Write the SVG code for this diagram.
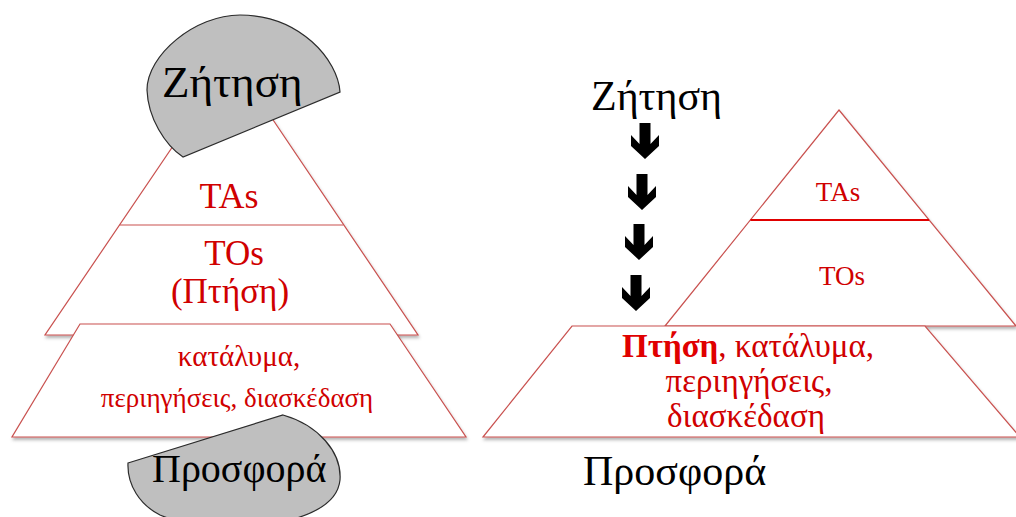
<svg xmlns="http://www.w3.org/2000/svg" width="1016" height="517" viewBox="0 0 1016 517">
<style>
.shape{fill:#fff;stroke:#c9514f;stroke-width:1.2}
.blob{fill:#bfbfbf;stroke:#2b2b2b;stroke-width:1.2}
.red{fill:#d00000;font-family:"Liberation Serif","DejaVu Serif",serif;text-anchor:middle}
.blk{fill:#000;font-family:"Liberation Serif","DejaVu Serif",serif}
.arrow{fill:#000}
</style>
<defs>
<filter id="sh" x="-5%" y="-5%" width="110%" height="125%">
<feDropShadow dx="1" dy="2.5" stdDeviation="1.5" flood-color="#000" flood-opacity="0.3"/>
</filter>
<path id="arr" d="M -5.5 0 H 5.5 V 21 L 14 12 V 23 L 0 36 L -14 23 V 12 L -5.5 21 Z"/>
</defs>
<rect width="1016" height="517" fill="#fff"/>

<g id="left-pyramid">
<polygon class="shape" filter="url(#sh)" points="232,59 418,335 45,335"/>
<line x1="119.5" y1="225" x2="343.5" y2="225" stroke="#c9514f" stroke-width="1.2"/>
</g>
<g id="left-base">
<polygon class="shape" filter="url(#sh)" points="80,324 390,324 466,437 12,437"/>
</g>
<g id="left-demand">
<path class="blob" d="M 340 92 C 338 60, 300 15, 240 15 C 195 15, 147 55, 147 90 C 148 118, 165 145, 183 157 Z"/>
<text class="blk" x="162" y="97" font-size="45">Ζήτηση</text>
</g>
<g id="left-supply">
<path class="blob" d="M 128 463 L 283 415 C 318 425, 342 452, 340 480 C 338 500, 320 512, 290 520 C 250 530, 190 528, 160 515 C 140 505, 127 485, 128 463 Z"/>
<text class="blk" x="152" y="482" font-size="40">Προσφορά</text>
</g>
<g id="left-labels">
<text class="red" x="229" y="208" font-size="36">TAs</text>
<text class="red" x="234" y="265" font-size="35">TOs</text>
<text class="red" x="230" y="303" font-size="35">(Πτήση)</text>
<text class="red" x="239" y="366" font-size="29">κατάλυμα,</text>
<text class="red" x="237" y="407" font-size="27">περιηγήσεις, διασκέδαση</text>
</g>

<g id="right-pyramid">
<polygon class="shape" filter="url(#sh)" points="839,110 1016,326 665,326"/>
<line x1="750.4" y1="220" x2="929.1" y2="220" stroke="#e00000" stroke-width="2"/>
<text class="red" x="838" y="201" font-size="27">TAs</text>
<text class="red" x="842" y="285" font-size="27">TOs</text>
</g>
<g id="right-base">
<polygon class="shape" filter="url(#sh)" points="572,326 925,326 1020,437 483,437"/>
<text class="red" x="748" y="357" font-size="33"><tspan font-weight="bold" fill="#e00000">Πτήση</tspan>, κατάλυμα,</text>
<text class="red" x="749" y="392" font-size="33">περιηγήσεις,</text>
<text class="red" x="746" y="427" font-size="33">διασκέδαση</text>
</g>
<g id="right-demand">
<text class="blk" x="591" y="110" font-size="42">Ζήτηση</text>
</g>
<g id="right-supply">
<text class="blk" x="583" y="485" font-size="42">Προσφορά</text>
</g>
<g id="connectors">
<use href="#arr" class="arrow" x="645" y="123"/>
<use href="#arr" class="arrow" x="642" y="174"/>
<use href="#arr" class="arrow" x="639" y="224"/>
<use href="#arr" class="arrow" x="636" y="275"/>
</g>
</svg>
